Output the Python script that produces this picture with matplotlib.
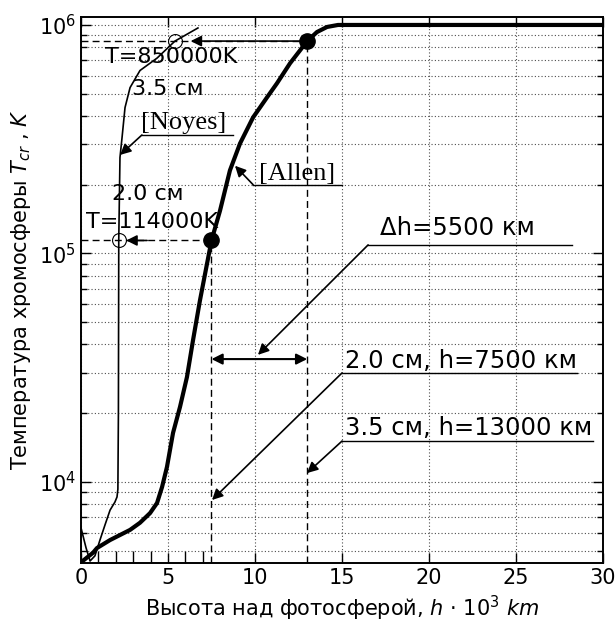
import matplotlib
matplotlib.use("Agg")
import matplotlib.pyplot as plt
from matplotlib.ticker import FixedLocator, LogLocator, NullFormatter

# Allen model, thick curve (h in 10^3 km, T in K)
allen_h = [0.0, 0.69, 0.92, 1.67, 2.82, 3.39, 3.97, 4.37, 4.66, 4.94, 5.29, 5.69,
           6.09, 6.44, 6.84, 7.5, 7.99, 8.56, 9.14, 9.89, 10.69, 11.26, 12.01, 13.0,
           13.56, 14.14, 14.77, 30.0]
allen_T = [4450, 4900, 5140, 5570, 6170, 6630, 7310, 8090, 9510, 11630, 16400, 21300,
           28800, 41800, 62500, 114000, 154000, 231000, 303000, 394000, 482000, 555000,
           679000, 850000, 931000, 980000, 1000000, 1000000]

# Noyes model, thin curve
noyes_h = [0.0, 0.29, 0.52, 0.8, 1.09, 1.38, 1.67, 1.95, 2.07, 2.12, 2.15, 2.17,
           2.24, 2.36, 2.53, 2.82, 3.39, 4.37, 5.4, 6.72]
noyes_T = [6300, 5150, 4510, 4750, 5570, 6490, 7530, 8170, 8600, 9300, 20000, 114000,
           263000, 322000, 435000, 532000, 632000, 716000, 850000, 970000]

# heights for 2.0 cm and 3.5 cm, and temperatures found there
h_20, h_35 = 7.5, 13.0
T_20, T_35 = 114000, 850000
noyes_h20, noyes_h35 = 2.17, 5.4

xticks = [0, 5, 10, 15, 20, 25, 30]

fig = plt.figure(figsize=(6.15, 6.28), dpi=100)
ax = fig.add_axes([0.1317, 0.1035, 0.8488, 0.8695])
ax.set_yscale("log")
ax.set_xlim(0, 30)
ax.set_ylim(4420, 1.084e6)

gridkw = dict(color="0.3", linestyle=(0, (1, 2)), linewidth=0.8)
ax.grid(True, which="major", axis="both", **gridkw)
ax.grid(True, which="minor", axis="y", **gridkw)
ax.set_axisbelow(True)

ax.set_xticks(xticks)
ax.xaxis.set_minor_locator(FixedLocator([1, 2, 3, 4, 6, 7]))
ax.yaxis.set_major_locator(LogLocator(base=10))
ax.yaxis.set_minor_locator(LogLocator(base=10, subs=range(2, 10)))
ax.yaxis.set_minor_formatter(NullFormatter())
ax.tick_params(which="both", direction="in", top=True, right=True, labelsize=15)
ax.tick_params(which="major", length=7, width=1)
ax.tick_params(which="minor", length=4, width=1)
ax.tick_params(axis="x", which="minor", length=9, top=False)
for s in ax.spines.values():
    s.set_linewidth(1.4)

# curves
ax.plot(allen_h, allen_T, color="k", lw=3, solid_capstyle="round", solid_joinstyle="round")
ax.plot(noyes_h, noyes_T, color="k", lw=1.2)

# dashed guide lines
dash = dict(color="k", lw=1, linestyle=(0, (5, 3)))
ax.plot([0, h_20], [T_20, T_20], **dash)
ax.plot([0, h_35], [T_35, T_35], **dash)
ax.plot([h_20, h_20], [4420, T_20], **dash)
ax.plot([h_35, h_35], [4420, T_35], **dash)

# markers
ax.plot([h_20, h_35], [T_20, T_35], "o", color="k", ms=11)
ax.plot([noyes_h20, noyes_h35], [T_20, T_35], "o", mfc="none", mec="k", ms=10, mew=0.8)

arr = dict(arrowstyle="-|>", color="k", lw=1.2, mutation_scale=16, shrinkA=0, shrinkB=0)
ax.annotate("", xy=(6.3, T_35), xytext=(h_35, T_35), arrowprops=arr)
ax.annotate("", xy=(2.6, T_20), xytext=(3.8, T_20), arrowprops=arr)
ax.annotate("", xy=(h_20, 34500), xytext=(h_35, 34500),
            arrowprops=dict(arrowstyle="<|-|>", color="k", lw=1.5, mutation_scale=16,
                            shrinkA=0, shrinkB=0))

# text labels near curves
ax.text(1.38, 682000, "T=850000K", fontsize=16)
ax.text(2.93, 494000, "3.5 см", fontsize=16)
ax.text(1.78, 171000, "2.0 см", fontsize=16)
ax.text(0.29, 129000, "T=114000K", fontsize=16)

# boxed references with leader lines
line = dict(color="k", lw=1)
ax.text(5.9, 3.5e5, "[Noyes]", fontsize=19, family="Liberation Serif", ha="center",
        va="baseline")
ax.plot([3.5, 8.74], [3.3e5, 3.3e5], **line)
ax.annotate("", xy=(2.25, 2.7e5), xytext=(3.5, 3.3e5), arrowprops=arr)

ax.text(12.44, 2.1e5, "[Allen]", fontsize=19, family="Liberation Serif", ha="center",
        va="baseline")
ax.plot([9.89, 15.0], [2.0e5, 2.0e5], **line)
ax.annotate("", xy=(8.85, 2.42e5), xytext=(9.89, 2.0e5), arrowprops=arr)

ax.text(17.2, 1.2e5, "Δh=5500 км", fontsize=17.5, va="baseline")
ax.plot([16.5, 28.2], [1.09e5, 1.09e5], **line)
ax.annotate("", xy=(10.17, 36000), xytext=(16.5, 1.09e5), arrowprops=arr)

ax.text(15.17, 31500, "2.0 см, h=7500 км", fontsize=17.5, va="baseline")
ax.plot([15.0, 28.5], [30000, 30000], **line)
ax.annotate("", xy=(7.53, 8340), xytext=(15.0, 30000), arrowprops=arr)

ax.text(15.17, 16000, "3.5 см, h=13000 км", fontsize=17.5, va="baseline")
ax.plot([15.0, 29.4], [15100, 15100], **line)
ax.annotate("", xy=(12.99, 10940), xytext=(15.0, 15100), arrowprops=arr)

ax.set_xlabel(r"Высота над фотосферой, $h$ · $10^3\ km$", fontsize=15, labelpad=4)
ax.set_ylabel(r"Температура хромосферы $T_{cr}$ , $K$", fontsize=15, labelpad=4)

fig.savefig("out.png", dpi=100)
